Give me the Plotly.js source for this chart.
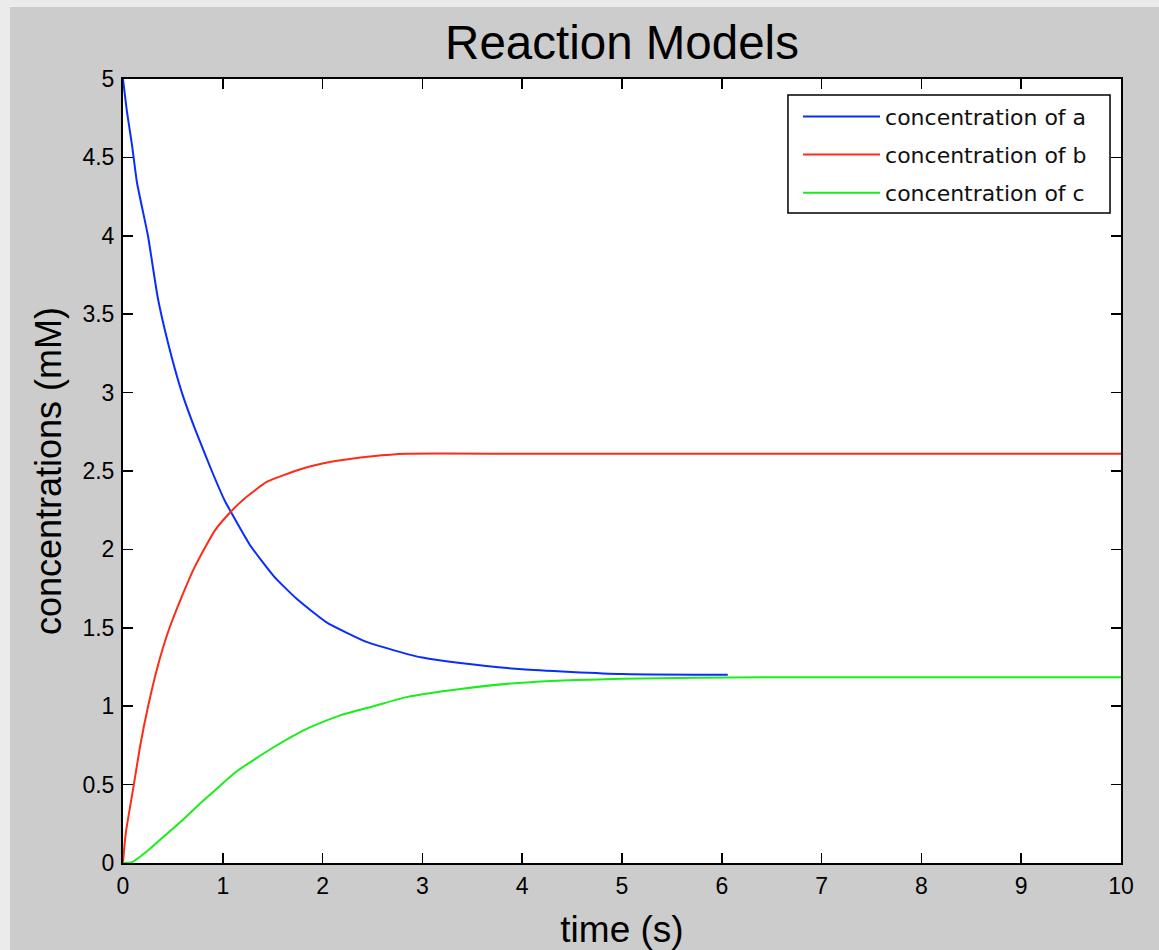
<!DOCTYPE html>
<html>
<head>
<meta charset="utf-8">
<script src="https://cdn.plot.ly/plotly-3.0.1.min.js"></script>
<style>
  html, body { margin: 0; padding: 0; background: #ebebeb; }
  #chart { position: absolute; left: 10px; top: 7px; width: 1149px; height: 943px; }
</style>
</head>
<body>
<div id="chart"></div>
<script>
// ---- data ----
const seriesNames = ["concentration of a", "concentration of b", "concentration of c"];

const timeA = [0, 0.04, 0.09, 0.14, 0.25, 0.35, 0.45, 0.59, 0.72, 0.77, 0.89, 1.02, 1.08, 1.27, 1.51, 1.74, 2.04, 2.44, 2.78, 3.0, 3.38, 4.0, 5.0, 6.06];
const concA = [5, 4.79, 4.58, 4.34, 4.0, 3.6, 3.32, 3.0, 2.77, 2.69, 2.50, 2.31, 2.24, 2.03, 1.83, 1.685, 1.535, 1.41, 1.345, 1.31, 1.275, 1.235, 1.205, 1.20];

const timeB = [0, 0.01, 0.03, 0.11, 0.17, 0.25, 0.35, 0.45, 0.59, 0.72, 0.92, 1.08, 1.21, 1.44, 1.77, 2.10, 2.50, 2.84, 4, 6, 8, 10];
const concB = [0, 0.08, 0.2, 0.505, 0.74, 0.995, 1.26, 1.47, 1.70, 1.89, 2.12, 2.24, 2.32, 2.43, 2.51, 2.56, 2.594, 2.61, 2.61, 2.61, 2.61, 2.61];

const timeC = [0, 0.09, 0.25, 0.42, 0.59, 0.76, 0.92, 1.13, 1.5, 1.84, 2.17, 2.51, 2.84, 3.38, 4.0, 5.0, 6.5, 8, 10];
const concC = [0, 0.005, 0.08, 0.175, 0.27, 0.372, 0.462, 0.58, 0.735, 0.856, 0.94, 1.0, 1.058, 1.11, 1.15, 1.175, 1.185, 1.185, 1.185];

const xTicks = [0, 1, 2, 3, 4, 5, 6, 7, 8, 9, 10];
const yTicks = [0, 0.5, 1, 1.5, 2, 2.5, 3, 3.5, 4, 4.5, 5];
const yTickLabels = ["0", "0.5", "1", "1.5", "2", "2.5", "3", "3.5", "4", "4.5", "5"];

const colors = ["#0a2dff", "#ff2b17", "#1aee1a"];

const lineStyle = (c) => ({ color: c, width: 2, shape: "spline", smoothing: 0.5 });

const traces = [
  { x: timeA, y: concA, name: seriesNames[0], legendgroup: "a", mode: "lines", line: lineStyle(colors[0]) },
  { x: timeB, y: concB, name: seriesNames[1], legendgroup: "b", mode: "lines", line: lineStyle(colors[1]) },
  { x: timeC, y: concC, name: seriesNames[2], legendgroup: "c", mode: "lines", line: lineStyle(colors[2]) }
];

const tickFont = { family: "Liberation Sans, Arial, sans-serif", size: 23, color: "#000" };

const layout = {
  width: 1149, height: 943,
  paper_bgcolor: "#cccccc",
  plot_bgcolor: "#ffffff",
  margin: { l: 113, r: 38, t: 72, b: 87 },
  title: {
    text: "Reaction Models",
    font: { family: "Liberation Sans, Arial, sans-serif", size: 47.5, color: "#000" },
    x: 0.5, xref: "paper", xanchor: "center",
    y: 1 - 35 / 943, yref: "container", yanchor: "middle"
  },
  xaxis: {
    range: [0, 10],
    tickvals: xTicks,
    ticktext: xTicks.map(String),
    ticks: "inside", ticklen: 10, tickwidth: 1.5, tickcolor: "#000",
    showline: true, linecolor: "#000", linewidth: 2, mirror: "ticks",
    showgrid: false, zeroline: false,
    tickfont: tickFont,
    ticklabelstandoff: 1,
    title: { text: "time (s)", font: { family: "Liberation Sans, Arial, sans-serif", size: 37, color: "#000" }, standoff: 20 }
  },
  yaxis: {
    range: [0, 5],
    tickvals: yTicks,
    ticktext: yTickLabels,
    ticks: "inside", ticklen: 10, tickwidth: 1.5, tickcolor: "#000",
    showline: true, linecolor: "#000", linewidth: 2, mirror: "ticks",
    showgrid: false, zeroline: false,
    tickfont: tickFont,
    ticklabelstandoff: 2,
    title: { text: "concentrations (mM)", font: { family: "Liberation Sans, Arial, sans-serif", size: 36, color: "#000" }, standoff: 10 }
  },
  // legend frame (white box with black border), the legend itself is drawn on top
  shapes: [{
    type: "rect", xref: "paper", yref: "paper",
    x0: 0.6663, x1: 0.989, y0: 0.829, y1: 0.9796,
    fillcolor: "#ffffff", line: { color: "#000", width: 1.5 }, layer: "above"
  }],
  showlegend: true,
  legend: {
    x: 0.6764, xanchor: "left", xref: "paper",
    y: 0.9787, yanchor: "top", yref: "paper",
    bgcolor: "rgba(0,0,0,0)", borderwidth: 0,
    font: { family: "DejaVu Sans, sans-serif", size: 22, color: "#111" },
    itemwidth: 77,
    tracegroupgap: 6.5
  }
};

Plotly.newPlot("chart", traces, layout, { displayModeBar: false, staticPlot: true });
</script>
</body>
</html>
